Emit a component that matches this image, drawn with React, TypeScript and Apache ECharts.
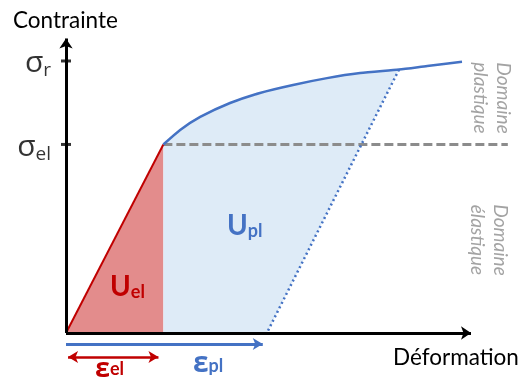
import React, { useEffect, useRef } from 'react';
import * as echarts from 'echarts';

// Strain (x) and stress (y) values of the loading curve, arbitrary units
const strainCurve: number[] = [2.38, 2.79, 3.28, 4.01, 4.74, 5.55, 6.38, 7.19, 8.14, 8.83, 9.68];
const stressCurve: number[] = [6.37, 6.86, 7.3, 7.77, 8.11, 8.38, 8.61, 8.78, 8.9, 9.02, 9.16];
const epsEl = 2.38; // elastic strain limit
const sigmaEl = 6.37; // elastic limit stress
const sigmaR = 9.19; // rupture stress
const epsPlEnd = 4.91; // residual strain after unloading
const unloadIndex = 8; // curve point where unloading starts
const limitEnd = 10.8; // end of the dashed elastic-limit line
const stressTicks: number[] = [sigmaEl, sigmaR];
const stressTickSubs: string[] = ['el', 'r'];
const axisMaxX = 9.9;
const axisMaxY = 9.95;

const LATIN = "Lato, 'Open Sans', sans-serif";
const GREEK = "'Open Sans', 'DejaVu Sans', sans-serif";
const RED = '#C00000';
const BLUE = '#4472C4';
const NOTE = '#A3A3A3';

function subLabel(x: number, y: number, main: string, sub: string, color: string, mainFont: string, lh: number, size = 28) {
  return {
    type: 'text', x, y, z: 100, zlevel: 0,
    style: {
      text: `{u|${main}}{s|${sub}}`, verticalAlign: 'middle',
      rich: {
        u: { fontFamily: mainFont, fontWeight: 'bold', fontSize: size, fill: color, lineHeight: lh },
        s: { fontFamily: LATIN, fontWeight: 'bold', fontSize: 18, fill: color, lineHeight: 18, verticalAlign: 'bottom' },
      },
    },
  };
}

export default function App() {
  const ref = useRef<HTMLDivElement>(null);
  useEffect(() => {
    if (!ref.current) return;
    const chart = echarts.init(ref.current, undefined, { renderer: 'svg' });
    const curve = strainCurve.map((x, i) => [x, stressCurve[i]]);
    const redArea = [[0, 0], [epsEl, sigmaEl], [epsEl, 0]];
    const blueArea = [[epsEl, 0], ...curve.slice(0, unloadIndex + 1), [epsPlEnd, 0]];
    const yStrainPl = -0.37;
    const yStrainEl = -0.81;

    chart.setOption({
      animation: false,
      grid: { left: 66, right: 4, top: 37, bottom: 7.6, outerBoundsMode: 'none' },
      xAxis: { type: 'value', min: 0, max: 11, show: false },
      yAxis: { type: 'value', min: -1.5, max: 10, show: false },
      series: [
        {
          type: 'custom',
          coordinateSystem: 'cartesian2d',
          silent: true,
          z: 1,
          data: [[0, 0]],
          renderItem: (_p: any, api: any) => ({
            type: 'group',
            children: [
              { type: 'polygon', shape: { points: redArea.map((p) => api.coord(p)) }, style: { fill: '#E38C8C' } },
              { type: 'polygon', shape: { points: blueArea.map((p) => api.coord(p)) }, style: { fill: '#DEEBF7' } },
            ],
          }),
        },
        {
          type: 'line', silent: true, z: 3, symbol: 'none',
          data: [[0, 0], [epsEl, sigmaEl]],
          lineStyle: { color: RED, width: 2 },
        },
        {
          type: 'line', silent: true, z: 3, symbol: 'none', smooth: 0.2,
          data: curve,
          lineStyle: { color: BLUE, width: 2.5 },
        },
        {
          type: 'line', silent: true, z: 2, symbol: 'none',
          data: [[epsEl, sigmaEl], [limitEnd, sigmaEl]],
          lineStyle: { color: '#8C8C8C', width: 3, type: [9, 4] },
        },
        {
          type: 'line', silent: true, z: 3, symbol: 'none',
          data: [curve[unloadIndex], [epsPlEnd, 0]],
          lineStyle: { color: BLUE, width: 2.5, type: [2, 3] },
        },
        {
          type: 'line', silent: true, z: 5, symbol: 'none', data: [],
          markLine: {
            silent: true, animation: false,
            symbol: ['none', 'arrow'], symbolSize: [10, 10],
            label: { show: false },
            lineStyle: { color: '#000', width: 3, type: 'solid' },
            data: [
              [{ coord: [0, 0] }, { coord: [axisMaxX, 0] }],
              [{ coord: [0, 0] }, { coord: [0, axisMaxY] }],
            ],
          },
        },
        {
          type: 'line', silent: true, z: 5, symbol: 'none', data: [],
          markLine: {
            silent: true, animation: false,
            symbol: ['none', 'arrow'], symbolSize: [9, 10],
            label: { show: false },
            lineStyle: { color: BLUE, width: 3, type: 'solid' },
            data: [[{ coord: [0, yStrainPl] }, { coord: [epsPlEnd - 0.1, yStrainPl] }]],
          },
        },
        {
          type: 'line', silent: true, z: 5, symbol: 'none', data: [],
          markLine: {
            silent: true, animation: false,
            symbol: ['arrow', 'arrow'], symbolSize: [9, 10],
            label: { show: false },
            lineStyle: { color: RED, width: 2.5, type: 'solid' },
            data: [[{ coord: [0.05, yStrainEl] }, { coord: [epsEl - 0.12, yStrainEl] }]],
          },
        },
        {
          type: 'scatter', silent: true, z: 6,
          symbol: 'rect', symbolSize: [10, 3],
          itemStyle: { color: '#000' },
          data: stressTicks.map((v) => [0, v]),
          label: {
            show: true, position: 'left', distance: 10,
            formatter: (p: any) => `{s|σ}{b|${stressTickSubs[p.dataIndex]}}`,
            rich: {
              s: { fontFamily: GREEK, fontSize: 30, color: '#000', lineHeight: 36 },
              b: { fontFamily: GREEK, fontSize: 19, color: '#000', lineHeight: 19, verticalAlign: 'bottom' },
            },
          },
        },
      ],
      graphic: [
        { type: 'text', left: 13, top: 8, z: 100, style: { text: 'Contrainte', fontFamily: LATIN, fontSize: 22.5, fill: '#000' } },
        { type: 'text', left: 393, top: 345, z: 100, style: { text: 'Déformation', fontFamily: LATIN, fontSize: 22.5, fill: '#000' } },
        {
          type: 'text', x: 493, y: 98, rotation: -Math.PI / 2, z: 100,
          style: { text: 'Domaine\nplastique', fontFamily: LATIN, fontStyle: 'italic', fontSize: 19, lineHeight: 23, fill: NOTE, align: 'center', verticalAlign: 'middle' },
        },
        {
          type: 'text', x: 490, y: 240, rotation: -Math.PI / 2, z: 100,
          style: { text: 'Domaine\nélastique', fontFamily: LATIN, fontStyle: 'italic', fontSize: 19, lineHeight: 23, fill: NOTE, align: 'center', verticalAlign: 'middle' },
        },
        subLabel(110, 285, 'U', 'el', RED, LATIN, 30),
        subLabel(227, 224, 'U', 'pl', BLUE, LATIN, 30),
        subLabel(95, 366, 'ε', 'el', RED, GREEK, 22, 27),
        subLabel(193, 361, 'ε', 'pl', BLUE, GREEK, 26),
      ],
    });
    return () => chart.dispose();
  }, []);
  return <div ref={ref} style={{ position: 'fixed', left: 0, top: 0, width: 520, height: 385 }} />;
}
